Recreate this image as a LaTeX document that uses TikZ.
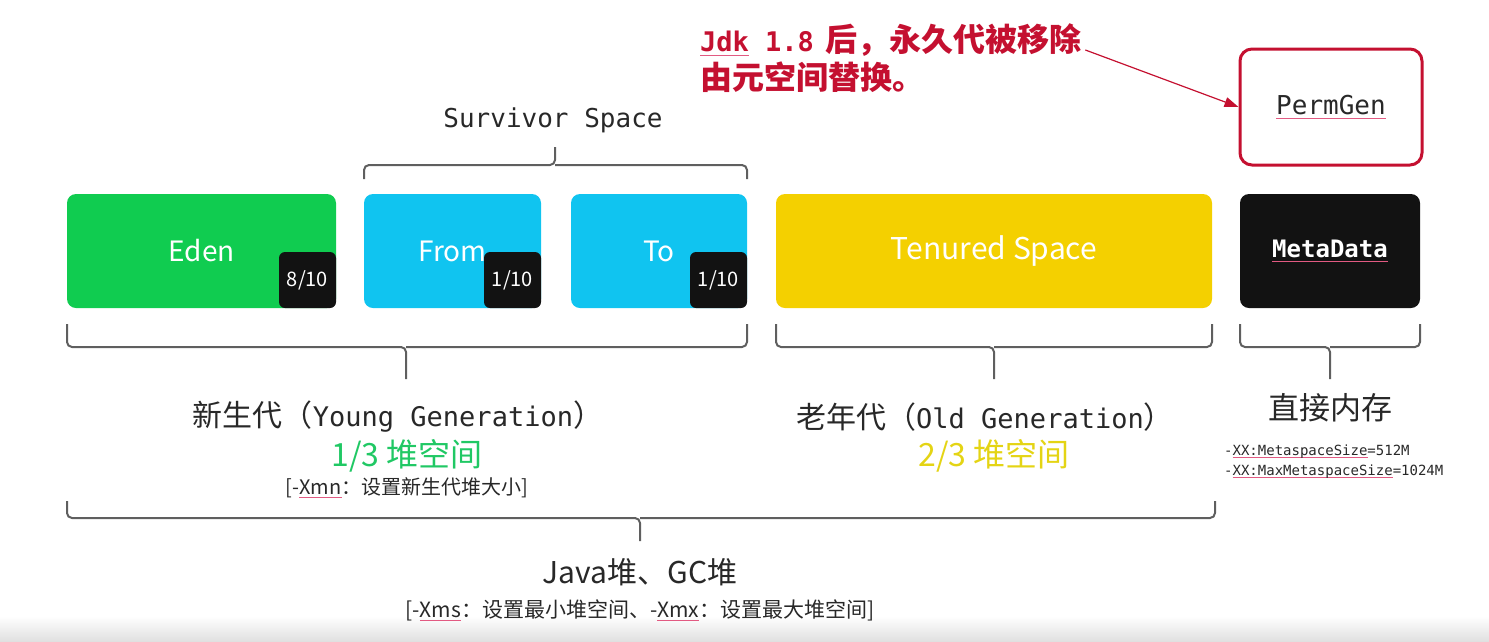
\documentclass[tikz,border=0pt]{standalone}
\usepackage{fontspec}
\setmainfont{Noto Sans CJK SC}
\setmonofont{DejaVu Sans Mono}
\usepackage{xcolor}
\usepackage{tikz}
\usetikzlibrary{arrows.meta, positioning}
\definecolor{edengreen}{RGB}{16,204,80}
\definecolor{survcyan}{RGB}{16,196,240}
\definecolor{oldyellow}{RGB}{244,208,0}
\definecolor{metablack}{RGB}{18,18,18}
\definecolor{permred}{RGB}{196,16,48}
\definecolor{labelgray}{RGB}{40,40,40}
\definecolor{bracegray}{RGB}{95,95,95}
\definecolor{greentext}{RGB}{32,200,100}
\definecolor{yellowtext}{RGB}{228,212,20}
\definecolor{spellpink}{RGB}{226,90,130}
\newcommand{\mono}[1]{{\ttfamily #1}}
\newcommand{\spellu}[1]{\setbox0=\hbox{#1}\rlap{\textcolor{spellpink}{\rule[-0.3ex]{\wd0}{0.8pt}}}\box0\relax}

\begin{document}
\begin{tikzpicture}[x=1pt, y=-1pt,
    area/.style={rounded corners=9pt, minimum height=114pt, inner sep=0pt, text=white,
      font=\fontsize{28}{30}\selectfont},
    badge/.style={fill=metablack, rounded corners=6pt, minimum width=57pt, minimum height=56pt,
      inner sep=0pt, text=white, font=\fontsize{20}{21}\selectfont},
    lbl/.style={text=labelgray, inner sep=0pt, font=\fontsize{30}{32}\selectfont},
    note/.style={text=labelgray, inner sep=0pt, font=\fontsize{20}{22}\selectfont},
    bracket/.style={draw=bracegray, line width=2pt, rounded corners=5pt}]
  \useasboundingbox (0,0) rectangle (1489,641);
  \shade[top color=white, bottom color=black!12] (0,616) rectangle (1489,641);

  % heap areas
  \node[area, fill=edengreen, minimum width=269pt] (eden) at (201.5,251) {Eden};
  \node[area, fill=survcyan, minimum width=177pt] (from) at (452.5,251) {From};
  \node[area, fill=survcyan, minimum width=176pt] (to) at (659,251) {To};
  \node[area, fill=oldyellow, minimum width=436pt, font=\fontsize{30}{32}\selectfont]
    (tenured) at (994,251) {Tenured Space};
  \node[area, fill=metablack, minimum width=180pt, font=\fontsize{24}{26}\selectfont\ttfamily\bfseries]
    (meta) at (1330,251) {\spellu{MetaData}};
  \node[area, fill=white, draw=permred, line width=3pt, rounded corners=12pt, minimum width=182pt,
    minimum height=116pt, text=labelgray, font=\fontsize{26}{28}\selectfont\ttfamily]
    (perm) at (1331,107) {\spellu{PermGen}};

  % ratios
  \node[badge, anchor=south east] (edenr) at (eden.south east) {8/10};
  \node[badge, anchor=south east] (fromr) at (from.south east) {1/10};
  \node[badge, anchor=south east] (tor) at (to.south east) {1/10};

  % braces
  \draw[bracket] (364,179) |- (555,165) -- (555,147);
  \draw[bracket] (747,179) |- (555,165);
  \draw[bracket] (67,324) |- (406,347) -- (406,379);
  \draw[bracket] (747,324) |- (406,347);
  \draw[bracket] (776,324) |- (994,347) -- (994,379);
  \draw[bracket] (1212,324) |- (994,347);
  \draw[bracket] (1240,324) |- (1330,347) -- (1330,379);
  \draw[bracket] (1420,324) |- (1330,347);
  \draw[bracket] (67,501) |- (640,518) -- (640,541);
  \draw[bracket] (1215,501) |- (640,518);

  % labels
  \node[lbl, font=\fontsize{26}{28}\selectfont\ttfamily] (surv) at (553,120) {Survivor Space};
  \node[lbl] (young) at (398,417) {新生代（\mono{\fontsize{27}{30}\selectfont Young Generation}）};
  \node[lbl, text=greentext, font=\fontsize{32}{34}\selectfont] (youngpart) at (407,456) {1/3 堆空间};
  \node[note] (xmn) at (407,488) {[-\spellu{Xmn}：设置新生代堆大小]};
  \node[lbl] (old) at (985,417) {老年代（\mono{\fontsize{27}{30}\selectfont Old Generation}）};
  \node[lbl, text=yellowtext, font=\fontsize{32}{34}\selectfont] (oldpart) at (994,456) {2/3 堆空间};
  \node[lbl, font=\fontsize{31}{33}\selectfont] (direct) at (1330,408) {直接内存};
  \node[note, anchor=west, font=\fontsize{14}{16}\selectfont\ttfamily] (metasize) at (1224,452)
    {-\spellu{XX:MetaspaceSize}=512M};
  \node[note, anchor=west, font=\fontsize{14}{16}\selectfont\ttfamily] (maxmeta) at (1224,472)
    {-\spellu{XX:MaxMetaspaceSize}=1024M};
  \node[lbl] (java) at (640,572) {Java堆、GC堆};
  \node[note, font=\fontsize{21}{23}\selectfont] (xms) at (640,610)
    {[-\spellu{Xms}：设置最小堆空间、-\spellu{Xmx}：设置最大堆空间]};

  % jdk 1.8 note
  \node[lbl, text=permred, anchor=west, font=\fontsize{32}{34}\selectfont\bfseries] (jdka) at (700,40)
    {\mono{\fontsize{27}{30}\selectfont\spellu{Jdk} 1.8}\hspace{0.35em}后，永久代被移除};
  \node[lbl, text=permred, anchor=west, font=\fontsize{32}{34}\selectfont\bfseries] (jdkb) at (700,77)
    {由元空间替换。};
  \draw[permred, line width=1.2pt, -{Triangle[length=14pt, width=10pt]}]
    ([xshift=4pt, yshift=-10pt]jdka.east) -- (perm.west);
\end{tikzpicture}
\end{document}
